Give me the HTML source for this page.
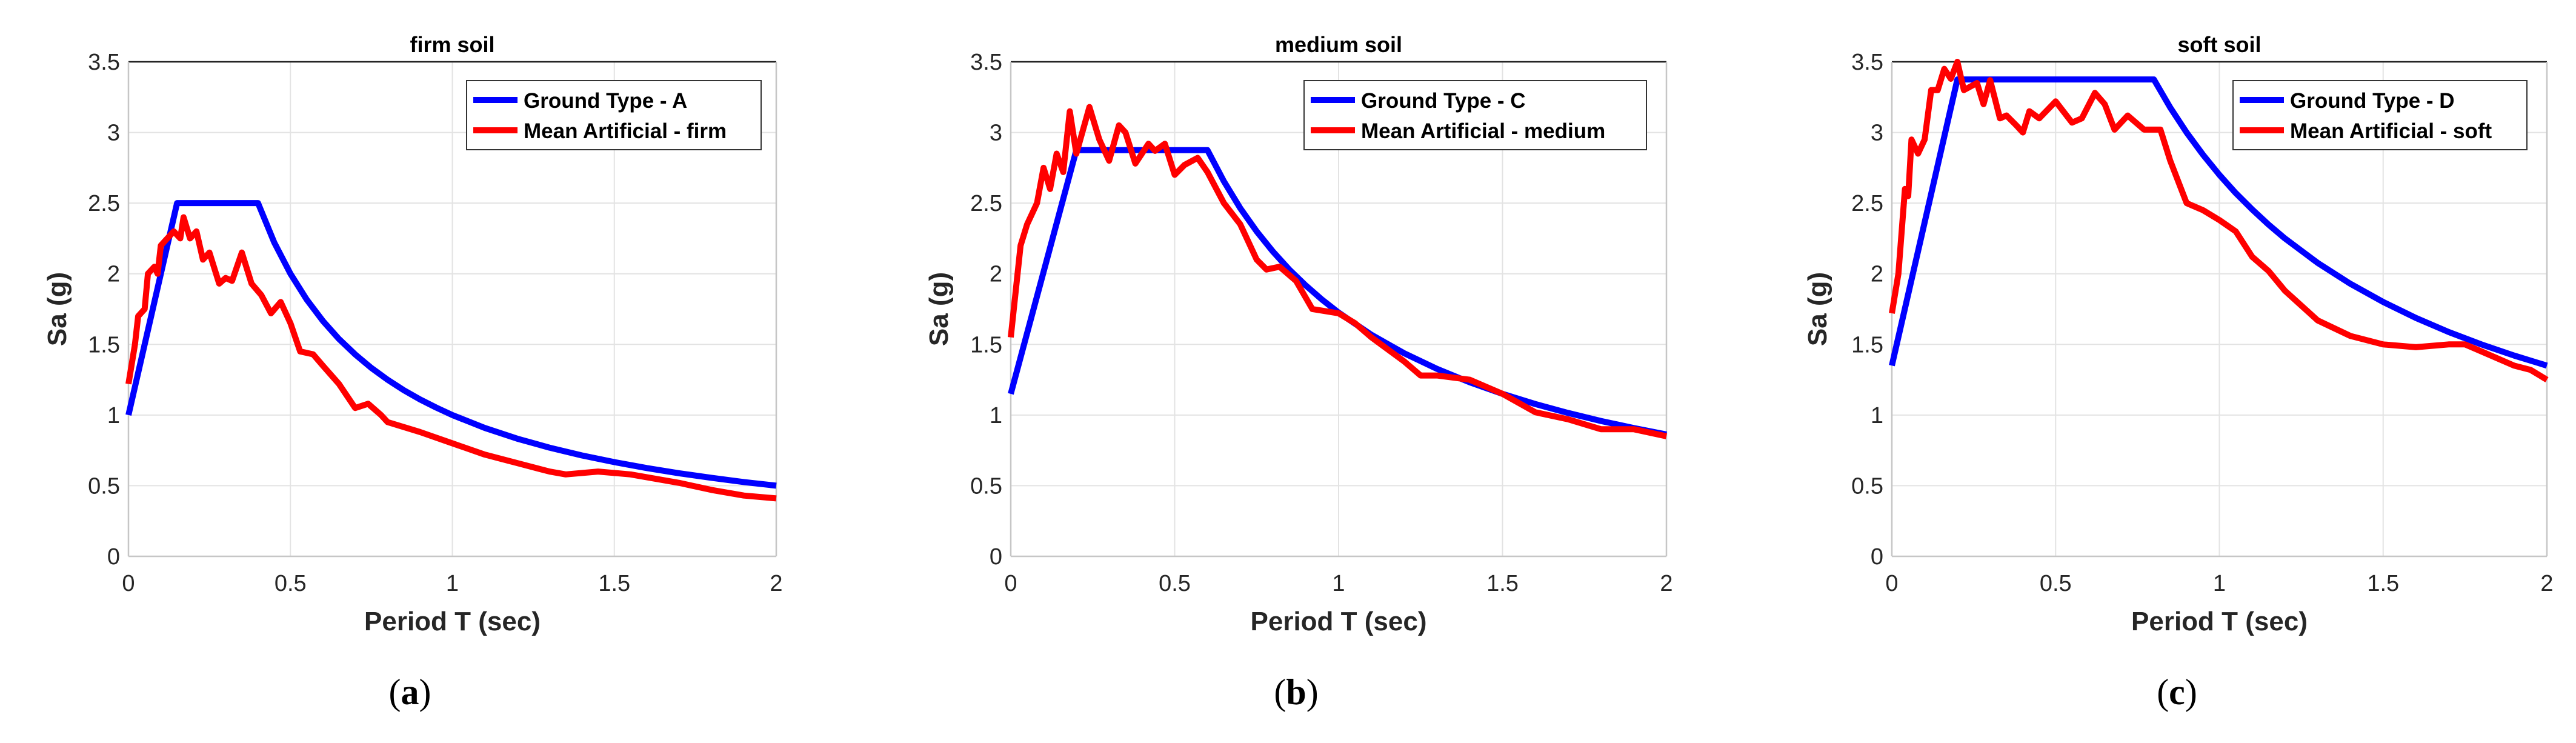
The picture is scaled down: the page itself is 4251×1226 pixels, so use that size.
<!DOCTYPE html>
<html><head><meta charset="utf-8">
<style>
html,body{margin:0;padding:0;background:#fff;}
svg{display:block;font-family:"Liberation Sans",Arial,sans-serif;}
</style></head>
<body>
<svg id="fig" width="4251" height="1226" viewBox="0 0 4251 1226" xmlns="http://www.w3.org/2000/svg"></svg>
<script>
// ---- data ----
const xTicks = [0, 0.5, 1, 1.5, 2];
const xTickLabels = ["0", "0.5", "1", "1.5", "2"];
const yTicks = [0, 0.5, 1, 1.5, 2, 2.5, 3, 3.5];
const yTickLabels = ["0", "0.5", "1", "1.5", "2", "2.5", "3", "3.5"];

const titles = ["firm soil", "medium soil", "soft soil"];
const panelLetters = ["a", "b", "c"];
const legendBlue = ["Ground Type - A", "Ground Type - C", "Ground Type - D"];
const legendRed = ["Mean Artificial - firm", "Mean Artificial - medium", "Mean Artificial - soft"];

const blueT_a = [0, 0.15, 0.4, 0.45, 0.5, 0.55, 0.6, 0.65, 0.7, 0.75, 0.8, 0.85, 0.9, 0.95, 1.0, 1.1, 1.2, 1.3, 1.4, 1.5, 1.6, 1.7, 1.8, 1.9, 2.0];
const blueS_a = [1.0, 2.5, 2.5, 2.222, 2.0, 1.818, 1.667, 1.538, 1.429, 1.333, 1.25, 1.176, 1.111, 1.053, 1.0, 0.909, 0.833, 0.769, 0.714, 0.667, 0.625, 0.588, 0.556, 0.526, 0.5];
const blueT_b = [0, 0.2, 0.6, 0.65, 0.7, 0.75, 0.8, 0.85, 0.9, 0.95, 1.0, 1.1, 1.2, 1.3, 1.4, 1.5, 1.6, 1.7, 1.8, 1.9, 2.0];
const blueS_b = [1.15, 2.875, 2.875, 2.654, 2.464, 2.3, 2.156, 2.029, 1.917, 1.816, 1.725, 1.568, 1.4375, 1.327, 1.232, 1.15, 1.078, 1.015, 0.958, 0.908, 0.8625];
const blueT_c = [0, 0.2, 0.8, 0.85, 0.9, 0.95, 1.0, 1.05, 1.1, 1.15, 1.2, 1.3, 1.4, 1.5, 1.6, 1.7, 1.8, 1.9, 2.0];
const blueS_c = [1.35, 3.375, 3.375, 3.176, 3.0, 2.842, 2.7, 2.571, 2.455, 2.348, 2.25, 2.077, 1.929, 1.8, 1.6875, 1.588, 1.5, 1.421, 1.35];

const redT_a = [0,.02,.03,.05,.06,.08,.09,.1,.12,.14,.16,.17,.19,.21,.23,.25,.28,.3,.32,.35,.38,.41,.44,.47,.5,.53,.57,.6,.65,.7,.74,.78,.8,.9,1.0,1.1,1.2,1.3,1.35,1.45,1.55,1.7,1.8,1.9,2.0];
const redS_a = [1.22,1.5,1.7,1.75,2.0,2.05,2.0,2.2,2.25,2.3,2.25,2.4,2.25,2.3,2.1,2.15,1.93,1.97,1.95,2.15,1.93,1.85,1.72,1.8,1.65,1.45,1.43,1.35,1.22,1.05,1.08,1.0,0.95,0.88,0.8,0.72,0.66,0.6,0.58,0.6,0.58,0.52,0.47,0.43,0.41];
const redT_b = [0,.03,.05,.08,.1,.12,.14,.16,.18,.2,.24,.27,.3,.33,.35,.38,.42,.44,.47,.5,.53,.57,.6,.65,.7,.75,.78,.82,.87,.92,1.0,1.05,1.1,1.2,1.25,1.3,1.4,1.5,1.6,1.7,1.8,1.9,2.0];
const redS_b = [1.55,2.2,2.35,2.5,2.75,2.6,2.85,2.72,3.15,2.85,3.18,2.95,2.8,3.05,3.0,2.78,2.92,2.87,2.92,2.7,2.77,2.82,2.72,2.5,2.35,2.1,2.03,2.05,1.95,1.75,1.72,1.65,1.55,1.38,1.28,1.28,1.25,1.15,1.02,0.97,0.9,0.9,0.85];
const redT_c = [0,.02,.03,.04,.05,.06,.08,.1,.12,.14,.16,.18,.2,.22,.26,.28,.3,.33,.35,.38,.4,.42,.45,.5,.55,.58,.62,.65,.68,.72,.77,.82,.85,.9,.95,1.0,1.05,1.1,1.15,1.2,1.3,1.4,1.5,1.6,1.7,1.75,1.8,1.9,1.95,2.0];
const redS_c = [1.72,2.0,2.3,2.6,2.55,2.95,2.85,2.95,3.3,3.3,3.45,3.38,3.5,3.3,3.35,3.2,3.37,3.1,3.12,3.05,3.0,3.15,3.1,3.22,3.07,3.1,3.28,3.2,3.02,3.12,3.02,3.02,2.8,2.5,2.45,2.38,2.3,2.12,2.02,1.88,1.67,1.56,1.5,1.48,1.5,1.5,1.45,1.35,1.32,1.25];

const blueTs = [blueT_a, blueT_b, blueT_c];
const blueSs = [blueS_a, blueS_b, blueS_c];
const redTs = [redT_a, redT_b, redT_c];
const redSs = [redS_a, redS_b, redS_c];

// ---- layout ----
const panels = [
  {x0:212, x1:1281, legX:770, legW:486, ylabX:95},
  {x0:1668, x1:2750, legX:2152, legW:565, ylabX:1550},
  {x0:3122, x1:4203, legX:3685, legW:485, ylabX:3000}
];
const Y0 = 918, Y1 = 102, XMAX = 2, YMAX = 3.5;
const NS = "http://www.w3.org/2000/svg";
const svg = document.getElementById('fig');
function mk(tag, attrs, parent){
  const e = document.createElementNS(NS, tag);
  for (const k in attrs) e.setAttribute(k, attrs[k]);
  (parent||svg).appendChild(e);
  return e;
}

panels.forEach((p, i) => {
  const sx = v => p.x0 + (v / XMAX) * (p.x1 - p.x0);
  const sy = v => Y0 - (v / YMAX) * (Y0 - Y1);
  const g = mk('g', {});
  
  
  mk('rect', {x:p.x0, y:Y1, width:p.x1-p.x0, height:Y0-Y1, fill:'#fff'}, g);
  xTicks.forEach(t => {
    const l = mk('line', {x1:sx(t), x2:sx(t), y1:Y1, y2:Y0, stroke:'#e3e3e3', 'stroke-width':2}, g);
    
    
  });
  yTicks.forEach(t => {
    const l = mk('line', {x1:p.x0, x2:p.x1, y1:sy(t), y2:sy(t), stroke:'#e3e3e3', 'stroke-width':2}, g);
    
    
  });
  mk('line', {x1:p.x0, x2:p.x1, y1:Y1, y2:Y1, stroke:'#222', 'stroke-width':2.5}, g);
  mk('line', {x1:p.x1, x2:p.x1, y1:Y1, y2:Y0, stroke:'#c6c6c6', 'stroke-width':2.5}, g);
  mk('line', {x1:p.x0, x2:p.x1, y1:Y0, y2:Y0, stroke:'#c6c6c6', 'stroke-width':2.5}, g);
  mk('line', {x1:p.x0, x2:p.x0, y1:Y1, y2:Y0, stroke:'#c6c6c6', 'stroke-width':2.5}, g);
  xTicks.forEach((t, k) => {
    const tx = mk('text', {x:sx(t), y:975, 'text-anchor':'middle', 'font-size':38, fill:'#262626'}, g);
    tx.textContent = xTickLabels[k];
    
    
  });
  yTicks.forEach((t, k) => {
    const tx = mk('text', {x:p.x0-14, y:sy(t)+13, 'text-anchor':'end', 'font-size':38, fill:'#262626'}, g);
    tx.textContent = yTickLabels[k];
    
    
  });
  const ti = mk('text', {x:(p.x0+p.x1)/2, y:86, 'text-anchor':'middle', 'font-size':36, 'font-weight':'bold', fill:'#000'}, g);
  ti.textContent = titles[i];
  
  
  const xl = mk('text', {x:(p.x0+p.x1)/2, y:1040, 'text-anchor':'middle', 'font-size':44, 'font-weight':'bold', fill:'#262626'}, g);
  xl.textContent = 'Period T (sec)';
  
  
  const yl = mk('text', {x:0, y:0, 'text-anchor':'middle', 'font-size':44, 'font-weight':'bold', fill:'#262626', transform:`translate(${p.ylabX+14},${(Y0+Y1)/2}) rotate(-90)`}, g);
  yl.textContent = 'Sa (g)';
  
  
  const bp = blueTs[i].map((t, k) => sx(t).toFixed(1) + ',' + sy(blueSs[i][k]).toFixed(1)).join(' ');
  const bl = mk('polyline', {points:bp, fill:'none', stroke:'#0000ff', 'stroke-width':10, 'stroke-linejoin':'round'}, g);
  
  
  const rp = redTs[i].map((t, k) => sx(t).toFixed(1) + ',' + sy(redSs[i][k]).toFixed(1)).join(' ');
  const rl = mk('polyline', {points:rp, fill:'none', stroke:'#ff0000', 'stroke-width':10, 'stroke-linejoin':'round'}, g);
  
  
  const lg = mk('g', {}, g);
  
  
  mk('rect', {x:p.legX, y:133, width:p.legW, height:114, fill:'#fff', stroke:'#333', 'stroke-width':2}, lg);
  mk('line', {x1:p.legX+11, x2:p.legX+84, y1:165, y2:165, stroke:'#0000ff', 'stroke-width':10}, lg);
  mk('line', {x1:p.legX+11, x2:p.legX+84, y1:215, y2:215, stroke:'#ff0000', 'stroke-width':10}, lg);
  const t1 = mk('text', {x:p.legX+94, y:178, 'font-size':35, 'font-weight':'bold', fill:'#000'}, lg);
  t1.textContent = legendBlue[i];
  
  
  const t2 = mk('text', {x:p.legX+94, y:228, 'font-size':35, 'font-weight':'bold', fill:'#000'}, lg);
  t2.textContent = legendRed[i];
  
  
  const pl = mk('text', {x:(p.x0+p.x1)/2 - 70, y:1162, 'text-anchor':'middle', 'font-size':60, fill:'#000', 'font-family':'"Liberation Serif", serif'}, g);
  pl.innerHTML = '(<tspan font-weight="bold">' + panelLetters[i] + '</tspan>)';
  
  
});
</script>
</body></html>
